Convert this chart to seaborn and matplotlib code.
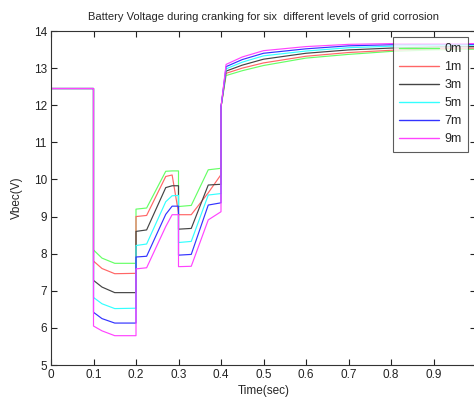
import pandas as pd
import numpy as np
import seaborn as sns
import matplotlib.pyplot as plt

# time breakpoints (sec)
t = [0, 0.1, 0.1, 0.12, 0.15, 0.2, 0.2, 0.225, 0.27, 0.285, 0.3, 0.3,
     0.33, 0.37, 0.4, 0.4, 0.412, 0.45, 0.5, 0.6, 0.7, 0.8, 0.9, 1.0]

v_0m = [12.45, 12.45, 8.1, 7.88, 7.74, 7.74, 9.2, 9.23, 10.22, 10.23, 10.23, 9.27,
        9.3, 10.26, 10.3, 11.95, 12.8, 12.93, 13.07, 13.27, 13.37, 13.45, 13.49, 13.51]
v_1m = [12.45, 12.45, 7.8, 7.6, 7.46, 7.47, 9.0, 9.03, 10.08, 10.12, 9.1, 9.05,
        9.05, 9.64, 10.13, 11.95, 12.86, 13.0, 13.14, 13.32, 13.42, 13.48, 13.52, 13.54]
v_3m = [12.45, 12.45, 7.28, 7.1, 6.95, 6.95, 8.6, 8.64, 9.78, 9.83, 9.83, 8.66,
        8.68, 9.85, 9.87, 11.95, 12.92, 13.08, 13.24, 13.40, 13.49, 13.54, 13.57, 13.58]
v_5m = [12.45, 12.45, 6.82, 6.65, 6.52, 6.53, 8.22, 8.26, 9.40, 9.56, 9.57, 8.30,
        8.33, 9.58, 9.62, 11.95, 12.98, 13.16, 13.33, 13.46, 13.55, 13.59, 13.61, 13.62]
v_7m = [12.45, 12.45, 6.42, 6.25, 6.13, 6.13, 7.91, 7.93, 9.06, 9.28, 9.28, 7.96,
        7.98, 9.31, 9.37, 11.95, 13.04, 13.23, 13.40, 13.52, 13.60, 13.63, 13.64, 13.64]
v_9m = [12.45, 12.45, 6.05, 5.92, 5.79, 5.79, 7.59, 7.62, 8.73, 9.05, 9.05, 7.65,
        7.66, 8.91, 9.13, 11.95, 13.1, 13.3, 13.47, 13.58, 13.64, 13.66, 13.66, 13.66]

labels = ["0m", "1m", "3m", "5m", "7m", "9m"]
colors = ["#66ff66", "#ff6666", "#444444", "#33ffff", "#3333ff", "#ff44ff"]

series = [v_0m, v_1m, v_3m, v_5m, v_7m, v_9m]
frames = []
for lab, vals in zip(labels, series):
    frames.append(pd.DataFrame({"time": t, "volt": vals, "level": lab}))
df = pd.concat(frames, ignore_index=True)

sns.set_style("white")
plt.rcParams["font.family"] = ["Liberation Sans", "DejaVu Sans"]

fig = plt.figure(figsize=(4.74, 3.97), dpi=100)
ax = fig.add_axes([51 / 474, 32 / 397, 425 / 474, 334 / 397])

sns.lineplot(data=df, x="time", y="volt", hue="level", hue_order=labels,
             palette=colors, estimator=None, sort=False, linewidth=0.85, ax=ax)

ax.set_xlim(0, 1)
ax.set_ylim(5, 14)
ax.set_xticks(np.arange(0, 1.01, 0.1))
ax.set_xticklabels(["0", "0.1", "0.2", "0.3", "0.4", "0.5", "0.6", "0.7", "0.8", "0.9", "1"])
ax.set_yticks(range(5, 15))
ax.tick_params(direction="in", length=4, width=0.8, labelsize=8.5, top=True, right=True,
               bottom=True, left=True, colors="#222222", pad=3)
for s in ax.spines.values():
    s.set_color("#333333")
    s.set_linewidth(0.8)

ax.set_title("Battery Voltage during cranking for six  different levels of grid corrosion",
             fontsize=8, pad=8)
ax.set_xlabel("Time(sec)", fontsize=8.5, labelpad=3)
ax.set_ylabel("Vbec(V)", fontsize=8.5, labelpad=8)

leg = ax.legend(loc="upper right", bbox_to_anchor=(0.981, 0.982), borderaxespad=0,
                fontsize=9, frameon=True, fancybox=False, edgecolor="#333333",
                handlelength=3.2, labelspacing=0.48, borderpad=0.5, handletextpad=0.4)
leg.get_frame().set_linewidth(0.8)
for line in leg.get_lines():
    line.set_linewidth(1.0)

fig.savefig("out.png", dpi=100)
